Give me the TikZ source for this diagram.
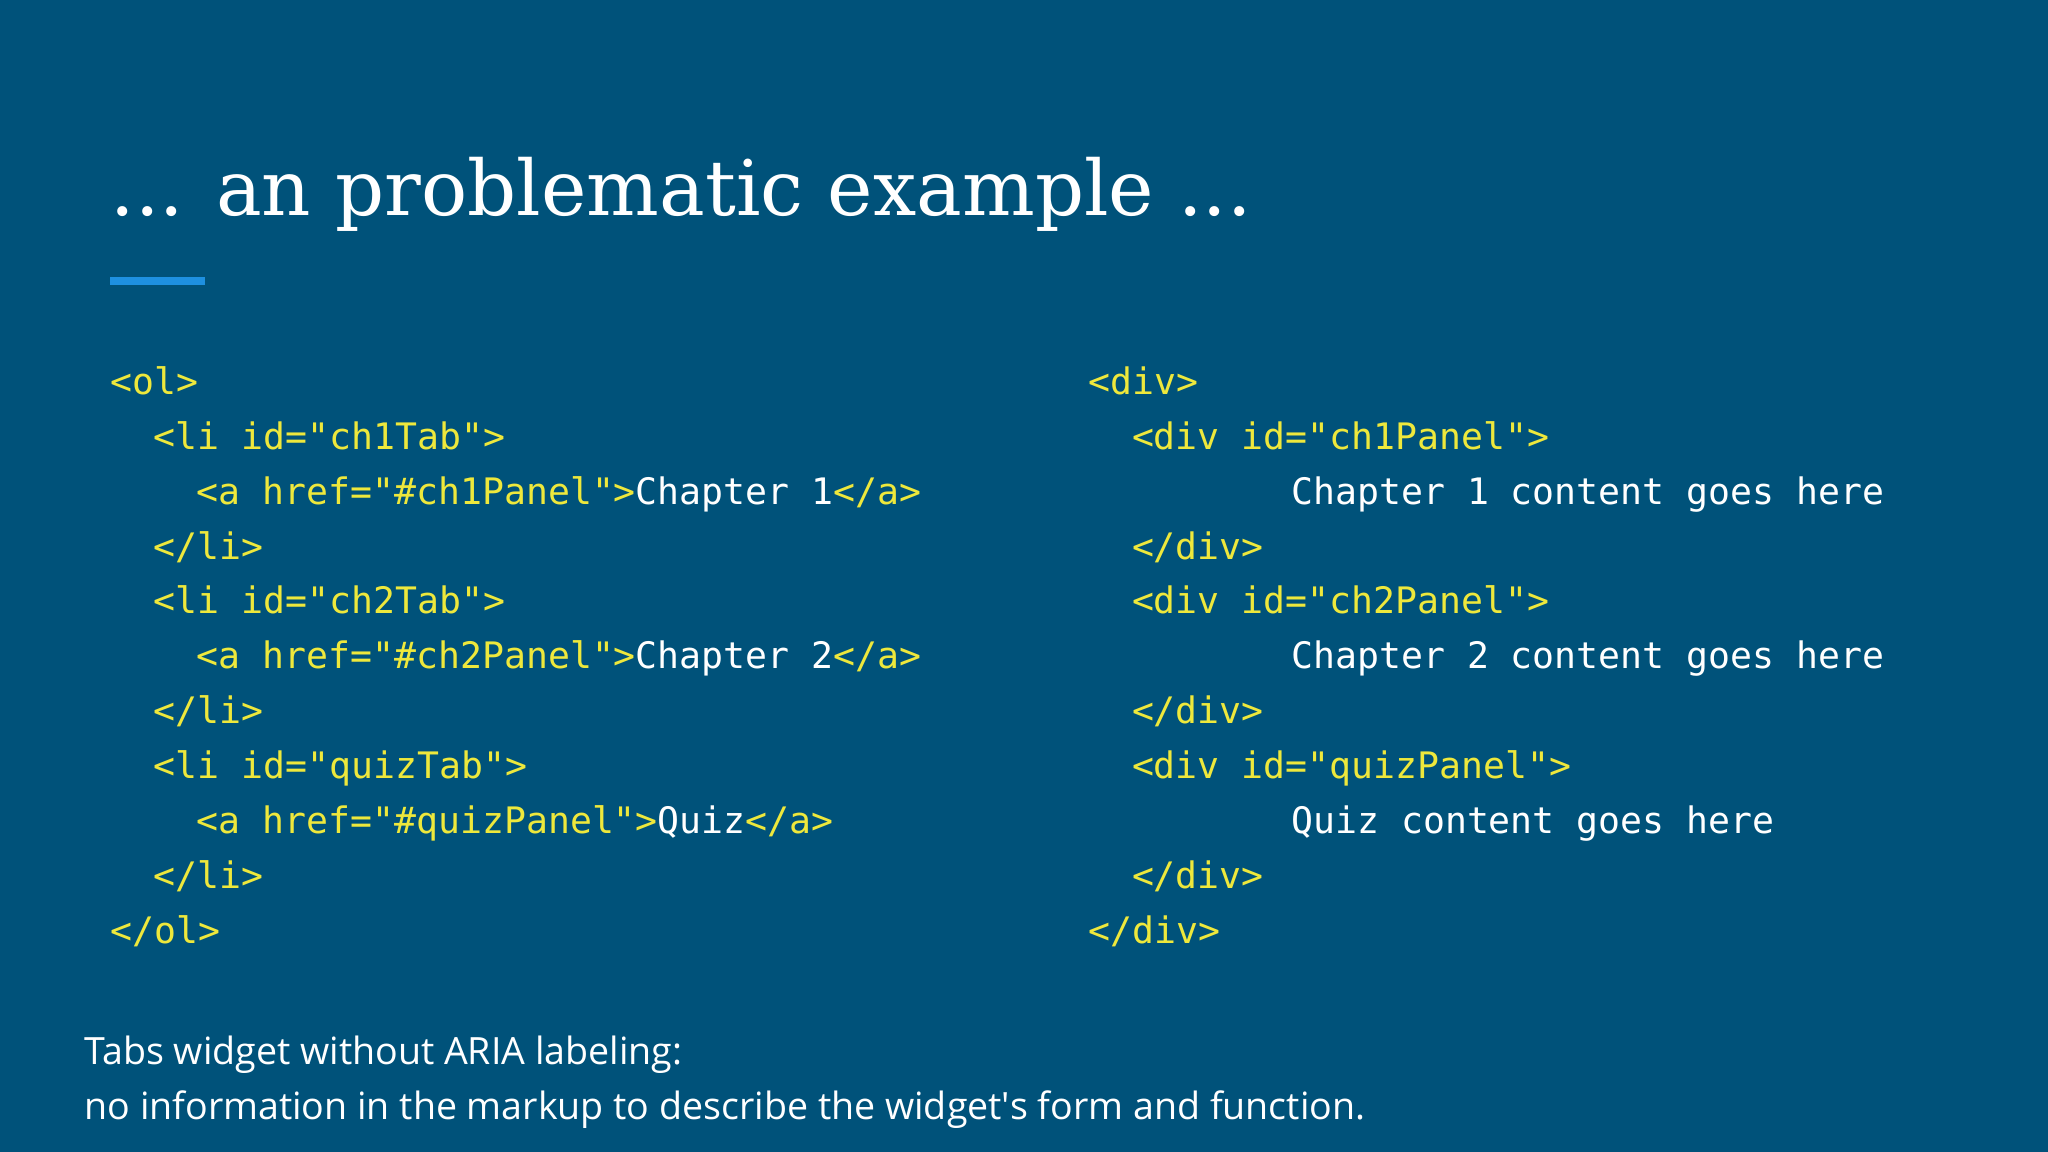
\documentclass[tikz,border=0pt]{standalone}
\usepackage{fontspec}
\setmainfont{Open Sans}
\newfontfamily\codefont{DejaVu Sans Mono}
\newfontfamily\titlefont{DejaVu Serif}
\definecolor{bg}{RGB}{0,82,122}
\definecolor{tagc}{RGB}{238,232,60}
\definecolor{barc}{RGB}{30,144,224}
\newcommand{\tg}[1]{\textcolor{tagc}{#1}}
\begin{document}
\begin{tikzpicture}[x=0.01cm,y=-0.01cm,
  code/.style={anchor=base west,inner sep=0,text=white,font=\codefont\fontsize{7.94pt}{9pt}\selectfont},
  body/.style={anchor=base west,inner sep=0,text=white,font=\fontsize{8.18pt}{10pt}\selectfont}]
\fill[bg] (0,0) rectangle (1568,882);
\useasboundingbox (0,0) rectangle (1568,882);
\node[anchor=base west,inner sep=0,text=white,font=\titlefont\fontsize{16.7pt}{20pt}\selectfont] (title) at (84,165) {... an problematic example ...};
\fill[barc] (84,212) rectangle (157,218);
% left column
\node[code] (l1) at (84,302) {\tg{<ol>}};
\node[code] (l2) at (117,344) {\tg{<li id="ch1Tab">}};
\node[code] (l3) at (150,386) {\tg{<a href="\#ch1Panel">}Chapter 1\tg{</a>}};
\node[code] (l4) at (117,428) {\tg{</li>}};
\node[code] (l5) at (117,470) {\tg{<li id="ch2Tab">}};
\node[code] (l6) at (150,512) {\tg{<a href="\#ch2Panel">}Chapter 2\tg{</a>}};
\node[code] (l7) at (117,554) {\tg{</li>}};
\node[code] (l8) at (117,596) {\tg{<li id="quizTab">}};
\node[code] (l9) at (150,638) {\tg{<a href="\#quizPanel">}Quiz\tg{</a>}};
\node[code] (l10) at (117,680) {\tg{</li>}};
\node[code] (l11) at (84,722) {\tg{</ol>}};
% right column
\node[code] (r1) at (833,302) {\tg{<div>}};
\node[code] (r2) at (866,344) {\tg{<div id="ch1Panel">}};
\node[code] (r3) at (988,386) {Chapter 1 content goes here};
\node[code] (r4) at (866,428) {\tg{</div>}};
\node[code] (r5) at (866,470) {\tg{<div id="ch2Panel">}};
\node[code] (r6) at (988,512) {Chapter 2 content goes here};
\node[code] (r7) at (866,554) {\tg{</div>}};
\node[code] (r8) at (866,596) {\tg{<div id="quizPanel">}};
\node[code] (r9) at (988,638) {Quiz content goes here};
\node[code] (r10) at (866,680) {\tg{</div>}};
\node[code] (r11) at (833,722) {\tg{</div>}};
% bottom text
\node[body] (b1) at (64,815) {Tabs widget without ARIA labeling:};
\node[body] (b2) at (64,857) {no information in the markup to describe the widget\textquotesingle s form and function.};
\end{tikzpicture}
\end{document}
